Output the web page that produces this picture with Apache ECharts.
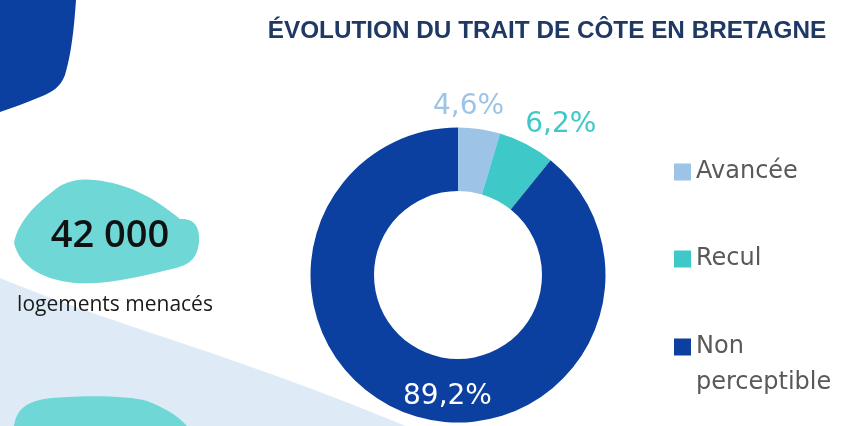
<!DOCTYPE html>
<html lang="fr">
<head>
<meta charset="utf-8">
<title>Évolution du trait de côte en Bretagne</title>
<script src="https://cdn.jsdelivr.net/npm/echarts@6/dist/echarts.min.js"></script>
<style>
  html, body { margin: 0; padding: 0; background: #ffffff; }
  #chart { width: 853px; height: 426px; }
</style>
</head>
<body>
<div id="chart"></div>
<script>
// Parts of the Breton coastline by type of evolution (percent)
const categories = ['Avancée', 'Recul', 'Non perceptible'];
const shares = [4.6, 6.2, 89.2];
const colors = ['#9dc3e6', '#3ec8c8', '#0b3fa0'];
const labelColors = ['#9dc3e6', '#3ec8c8', '#ffffff'];

const titleText = 'ÉVOLUTION DU TRAIT DE CÔTE EN BRETAGNE';
const keyFigure = '42 000';
const keyFigureCaption = 'logements menacés';

const fmtPct = v => v.toFixed(1).replace('.', ',') + '%';

// label placement per slice: the two small ones sit outside, the big one inside the ring
const labelPlacement = [
  { position: 'outside', offset: [-53, -10] },
  { position: 'outside', offset: [-12, -9] },
  { position: 'inside', offset: [29, 10] }
];

// decorative background shapes
const decoShapes = {
  paleWave: 'M0,278 C120,328 230,352 420,432 L0,432 Z',
  darkCorner: 'M0,0 L76,0 C74,30 71,55 65,75 C60,88 52,92 40,97 C26,103 12,108 0,112 Z',
  tealBlobTop: 'M14,243 C18,222 35,205 52,192 C64,181 78,178 95,180 C128,184 152,196 180,219 C195,218 200,228 199,241 C198,257 191,264 176,268 C142,276 110,285 75,283 C45,280 20,268 14,243 Z',
  tealBlobBottom: 'M13,432 C15,412 22,401 52,398 C90,395 130,396 147,401 C165,408 180,416 192,432 Z'
};
Object.keys(decoShapes).forEach(k => {
  echarts.graphic.registerShape(k, echarts.graphic.extendPath(decoShapes[k], {}));
});

const chart = echarts.init(document.getElementById('chart'), null, { renderer: 'canvas' });

const pieData = categories.map((name, i) => ({
  name: name,
  value: shares[i],
  itemStyle: { color: colors[i] },
  label: {
    position: labelPlacement[i].position,
    offset: labelPlacement[i].offset,
    color: labelColors[i]
  }
}));

const legendText = {
  fontFamily: '"DejaVu Sans", sans-serif',
  fontSize: 24,
  color: '#595959'
};

const option = {
  backgroundColor: '#ffffff',
  animation: false,
  title: {
    text: titleText,
    left: 542,
    top: 14,
    textAlign: 'center',
    textStyle: {
      fontFamily: '"Liberation Sans", sans-serif',
      fontWeight: 'bold',
      fontSize: 24.3,
      color: '#1f3864'
    }
  },
  graphic: [
    { type: 'paleWave', z: -10, silent: true, style: { fill: '#deebf6' } },
    { type: 'darkCorner', z: -9, silent: true, style: { fill: '#0b3fa0' } },
    { type: 'tealBlobTop', z: -8, silent: true, style: { fill: '#6fd8d6' } },
    { type: 'tealBlobBottom', z: -8, silent: true, style: { fill: '#6fd8d6' } },
    { type: 'text', z: 5, silent: true,
      style: { text: keyFigure, x: 110, y: 236, align: 'center', verticalAlign: 'middle',
               fontFamily: '"Open Sans", sans-serif', fontWeight: 600, fontSize: 38, fill: '#111111' } },
    { type: 'text', z: 5, silent: true,
      style: { text: keyFigureCaption, x: 115, y: 305, align: 'center', verticalAlign: 'middle',
               fontFamily: '"Open Sans", sans-serif', fontSize: 21, fill: '#1a1a1a' } }
  ],
  legend: [
    { data: [categories[0]], left: 674, top: 157, orient: 'vertical', padding: 0,
      icon: 'rect', itemWidth: 17, itemHeight: 17, selectedMode: false,
      textStyle: Object.assign({ lineHeight: 30 }, legendText) },
    { data: [categories[1]], left: 674, top: 244, orient: 'vertical', padding: 0,
      icon: 'rect', itemWidth: 17, itemHeight: 17, selectedMode: false,
      textStyle: Object.assign({ lineHeight: 30 }, legendText) },
    // leading blank line keeps "Non" level with the swatch, "perceptible" wraps below
    { data: [categories[2]], left: 674, top: 293, orient: 'vertical', padding: 0,
      icon: 'rect', itemWidth: 17, itemHeight: 17, selectedMode: false,
      formatter: () => ' \nNon\nperceptible',
      textStyle: Object.assign({ lineHeight: 36 }, legendText) }
  ],
  series: [{
    type: 'pie',
    center: [458, 275],
    radius: [84, 147.5],
    startAngle: 90,
    clockwise: true,
    avoidLabelOverlap: false,
    itemStyle: { borderWidth: 0 },
    label: {
      show: true,
      formatter: p => fmtPct(p.value),
      fontFamily: '"DejaVu Sans", sans-serif',
      fontSize: 28
    },
    labelLine: { show: false, length: 12, length2: 0 },
    emphasis: { disabled: true },
    data: pieData
  }]
};

chart.setOption(option);
</script>
</body>
</html>
